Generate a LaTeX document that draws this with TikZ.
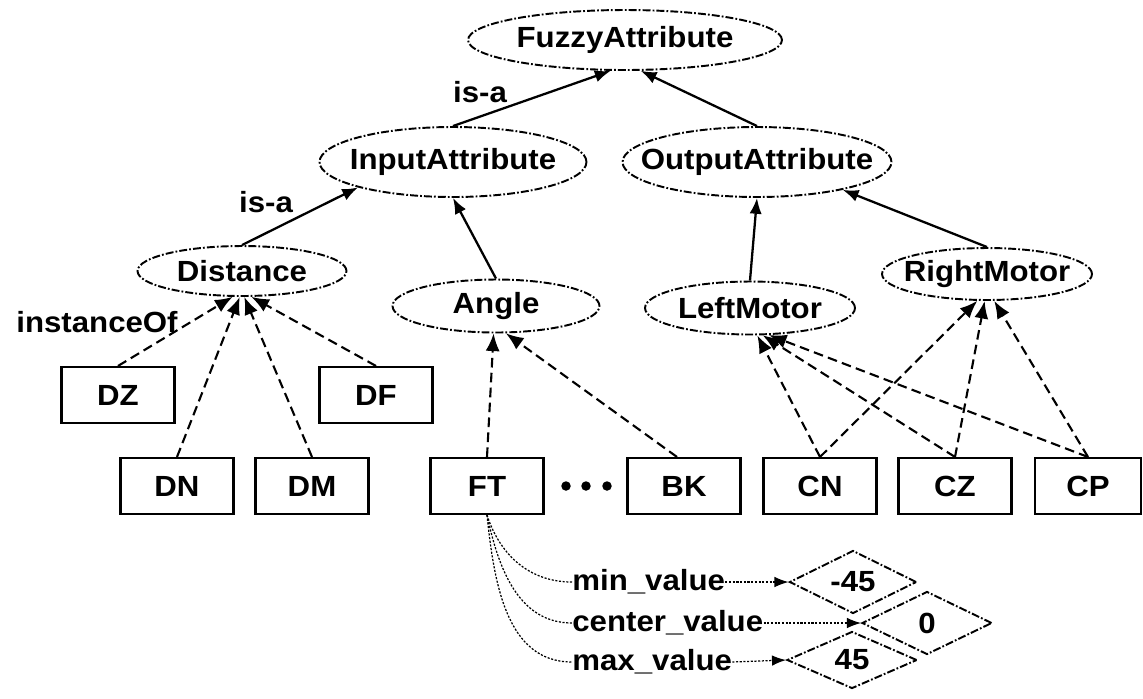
\documentclass[tikz,border=0pt]{standalone}
\usepackage{fontspec}
\setmainfont{Liberation Sans}[FakeStretch=1.07]
\usetikzlibrary{shapes.geometric,arrows.meta}
% zero-width box so the text does not inflate the ellipse or diamond
\newcommand\zwtext[1]{\makebox[0pt]{#1}}
\tikzset{
  cls/.style={ellipse, draw, line width=1.1pt, inner sep=0pt,
    dash pattern=on 4.5pt off 1.2pt on 1pt off 1.2pt},
  inst/.style={rectangle, draw, line width=1.2pt, inner sep=0pt,
    minimum width=2.26cm, minimum height=1.12cm},
  val/.style={diamond, draw, line width=1.1pt, inner sep=0pt, shape aspect=2,
    dash pattern=on 4.5pt off 1.2pt on 1pt off 1.2pt},
  isa/.style={line width=1.3pt, -{Latex[length=9pt,width=7pt]}},
  instof/.style={line width=1.2pt, dash pattern=on 5.5pt off 3pt,
    -{Latex[length=10pt,width=8pt]}},
  attr/.style={line width=0.7pt, dash pattern=on 1.2pt off 0.9pt},
  attrarrow/.style={attr, -{Latex[length=8pt,width=6pt]}},
  lbl/.style={inner sep=0pt},
  dot/.style={circle, fill, inner sep=0pt, minimum size=0.19cm}
}
\begin{document}
\begin{tikzpicture}[x=0.02cm, y=-0.02cm, font=\fontsize{16.6}{20}\selectfont\bfseries]
\useasboundingbox (0,0) rectangle (1143,698);

% class hierarchy
\node[cls, minimum width=6.28cm, minimum height=1.2cm]  (fuzzy)      at (625,40)  {\zwtext{FuzzyAttribute}};
\node[cls, minimum width=5.34cm, minimum height=1.4cm]  (input)      at (453,162) {\zwtext{InputAttribute}};
\node[cls, minimum width=5.38cm, minimum height=1.4cm]  (output)     at (757,162) {\zwtext{OutputAttribute}};
\node[cls, minimum width=4.18cm, minimum height=1.0cm]  (distance)   at (242,271) {\zwtext{Distance}};
\node[cls, minimum width=4.14cm, minimum height=1.06cm] (angle)      at (496,306) {\zwtext{Angle}};
\node[cls, minimum width=4.2cm,  minimum height=1.06cm] (leftmotor)  at (750,308) {\zwtext{LeftMotor}};
\node[cls, minimum width=4.2cm,  minimum height=1.04cm] (rightmotor) at (987,274) {\zwtext{RightMotor}};

% instances
\node[inst] (dz) at (118,395) {DZ};
\node[inst] (df) at (376,395) {DF};
\node[inst] (dn) at (177,486) {DN};
\node[inst] (dm) at (312,486) {DM};
\node[inst] (ft) at (487,486) {FT};
\node[inst] (bk) at (684,486) {BK};
\node[inst] (cn) at (820,486) {CN};
\node[inst] (cz) at (955,486) {CZ};
\node[inst, minimum width=2.12cm] (cp) at (1088,486) {CP};

\node[dot] (d1) at (566,486) {};
\node[dot] (d2) at (586,486) {};
\node[dot] (d3) at (607,486) {};

% is-a links
\draw[isa] (input.north)    -- (fuzzy.-115);
\draw[isa] (output.north)   -- (fuzzy.-63);
\draw[isa] (distance.north) -- (input.-165);
\draw[isa] (angle.north)    -- (input.south);
\draw[isa] (leftmotor.north)-- (output.south);
\draw[isa] (rightmotor.north)-- (output.-18);
\node[lbl] (isa1) at (480,92)  {is-a};
\node[lbl] (isa2) at (266,202) {is-a};

% instanceOf links
\node[lbl] (instof) at (97,322) {instanceOf};
\draw[instof] (dz.north) -- (distance.-110);
\draw[instof] (dn.north) -- (distance.-95);
\draw[instof] (dm.north) -- (distance.-85);
\draw[instof] (df.north) -- (distance.-70);
\draw[instof] (ft.north) -- (angle.-95);
\draw[instof] ([xshift=-0.14cm]bk.north) -- (angle.-70);
\draw[instof] (cn.north) -- (leftmotor.-75);
\draw[instof] (cz.north) -- (leftmotor.-65);
\draw[instof] (cp.north) -- (leftmotor.-55);
\draw[instof] (cn.north) -- (rightmotor.-110);
\draw[instof] (cz.north) -- (rightmotor.-95);
\draw[instof] (cp.north) -- (rightmotor.-75);

% attribute values of FT
\node[lbl, anchor=west] (minl) at (572,582) {min\_value};
\node[lbl, anchor=west] (cenl) at (572,623) {center\_value};
\node[lbl, anchor=west] (maxl) at (572,662) {max\_value};
\node[val, minimum width=2.54cm, minimum height=1.26cm] (m45)  at (853,582) {\zwtext{-45}};
\node[val, minimum width=2.6cm,  minimum height=1.26cm] (zero) at (927,623) {\zwtext{0}};
\node[val, minimum width=2.6cm,  minimum height=1.14cm] (p45)  at (852,660) {\zwtext{45}};

\draw[attr] (ft.south) to[out=-72, in=180] (minl.west);
\draw[attr] (ft.south) to[out=-78, in=180] (cenl.west);
\draw[attr] (ft.south) to[out=-84, in=180] (maxl.west);
\draw[attrarrow] (minl.east) -- (m45.west);
\draw[attrarrow] (cenl.east) -- (zero.west);
\draw[attrarrow] (maxl.east) -- (p45.west);
\end{tikzpicture}
\end{document}
